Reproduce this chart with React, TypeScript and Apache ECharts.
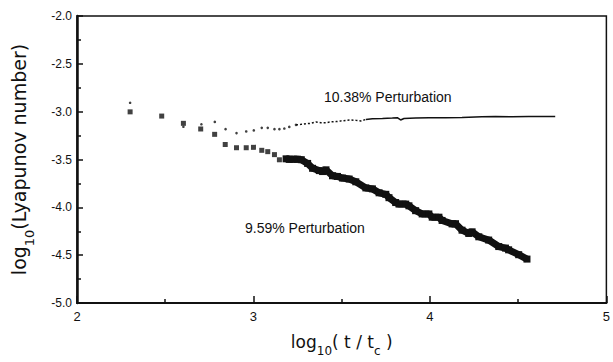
import React, { useEffect, useRef } from "react";
import * as echarts from "echarts";

// 9.59% perturbation: isolated early squares
const lowerSparseX = [2.301, 2.48, 2.603, 2.701, 2.78, 2.84, 2.904, 2.959, 3.0, 3.047, 3.081, 3.119, 3.147];
const lowerSparseY = [-3.002, -3.046, -3.122, -3.181, -3.237, -3.343, -3.377, -3.377, -3.373, -3.404, -3.418, -3.449, -3.503];
// 9.59% perturbation: dense band of squares
const lowerBandX = [3.185, 3.203, 3.226, 3.249, 3.271, 3.307, 3.335, 3.373, 3.392, 3.411, 3.448, 3.476, 3.505, 3.542, 3.58, 3.637, 3.674, 3.712, 3.75, 3.768, 3.806, 3.825, 3.863, 3.881, 3.919, 3.956, 3.994, 4.013, 4.051, 4.069, 4.126, 4.145, 4.182, 4.22, 4.239, 4.277, 4.333, 4.39, 4.428, 4.446, 4.503, 4.55];
const lowerBandY = [-3.493, -3.498, -3.497, -3.497, -3.502, -3.541, -3.592, -3.616, -3.626, -3.608, -3.67, -3.677, -3.694, -3.704, -3.733, -3.797, -3.807, -3.848, -3.864, -3.899, -3.95, -3.966, -3.966, -3.984, -4.035, -4.069, -4.069, -4.103, -4.103, -4.137, -4.173, -4.171, -4.239, -4.273, -4.256, -4.308, -4.342, -4.41, -4.426, -4.444, -4.495, -4.541];

// 10.38% perturbation: isolated early dots
const upperSparseX = [2.301, 2.603, 2.705, 2.781, 2.842, 2.904, 2.959, 3.002, 3.047, 3.081, 3.119, 3.147, 3.175, 3.203, 3.241];
const upperSparseY = [-2.907, -3.158, -3.132, -3.107, -3.183, -3.224, -3.207, -3.196, -3.169, -3.169, -3.183, -3.183, -3.176, -3.159, -3.138];
// 10.38% perturbation: closely spaced dots
const upperMidX = [3.241, 3.269, 3.298, 3.326, 3.354, 3.382, 3.411, 3.439, 3.467, 3.495, 3.524, 3.552, 3.58, 3.608, 3.637];
const upperMidY = [-3.138, -3.132, -3.125, -3.122, -3.107, -3.115, -3.115, -3.107, -3.104, -3.097, -3.091, -3.087, -3.091, -3.097, -3.081];
// 10.38% perturbation: continuous tail
const upperTailX = [3.637, 3.674, 3.731, 3.787, 3.815, 3.834, 3.853, 3.919, 3.994, 4.089, 4.182, 4.295, 4.371, 4.465, 4.559, 4.71];
const upperTailY = [-3.081, -3.074, -3.071, -3.066, -3.063, -3.087, -3.071, -3.066, -3.063, -3.063, -3.06, -3.053, -3.05, -3.053, -3.05, -3.05];

const xTicks = [2, 3, 4, 5];
const yTicks = [-5.0, -4.5, -4.0, -3.5, -3.0, -2.5, -2.0];

const labelUpper = "10.38% Perturbation";
const labelLower = "9.59% Perturbation";

const zip = (xs: number[], ys: number[]) => xs.map((x, i) => [x, ys[i]]);

const INK = "#111";
const TICK_FONT = "'Liberation Sans', Arial, Helvetica, sans-serif";
const TITLE_FONT = "'DejaVu Sans', 'Liberation Sans', sans-serif";

const makeRich = (size: number) => ({
  m: { fontSize: size, fontFamily: TITLE_FONT, color: INK, lineHeight: size, verticalAlign: "top" },
  s: { fontSize: Math.round(size * 0.7), fontFamily: TITLE_FONT, color: INK, lineHeight: Math.round(size * 1.4), verticalAlign: "bottom" },
});

export default function App() {
  const ref = useRef<HTMLDivElement>(null);
  useEffect(() => {
    if (!ref.current) return;
    const chart = echarts.init(ref.current, null, { renderer: "svg" });
    chart.setOption({
      animation: false,
      backgroundColor: "#fff",
      grid: {
        left: 77,
        right: 5,
        top: 16,
        bottom: 53,
        show: true,
        borderColor: INK,
        borderWidth: 1.5,
        backgroundColor: "transparent",
      },
      xAxis: {
        type: "value",
        min: xTicks[0],
        max: xTicks[xTicks.length - 1],
        interval: 1,
        name: "{m|log}{s|10}{m|( t / t}{s|c}{m| )}",
        nameLocation: "middle",
        nameGap: 30,
        nameTextStyle: { rich: makeRich(17) },
        axisLine: { show: true, onZero: false, lineStyle: { color: INK, width: 2 } },
        axisTick: { show: true, inside: true, length: 7, lineStyle: { color: INK, width: 1.5 } },
        minorTick: { show: true, splitNumber: 2, length: 4, lineStyle: { color: INK, width: 1.5 } },
        splitLine: { show: false },
        minorSplitLine: { show: false },
        axisLabel: {
          margin: 7,
          fontSize: 13,
          fontFamily: TICK_FONT,
          color: INK,
          formatter: (v: number) => String(v),
        },
      },
      yAxis: {
        type: "value",
        min: yTicks[0],
        max: yTicks[yTicks.length - 1],
        interval: 0.5,
        name: "{m|log}{s|10}{m|(Lyapunov number)}",
        nameLocation: "middle",
        nameGap: 41,
        nameTextStyle: { rich: makeRich(19) },
        axisLine: { show: true, onZero: false, lineStyle: { color: INK, width: 2.5 } },
        axisTick: { show: true, inside: true, length: 6, lineStyle: { color: INK, width: 1.5 } },
        minorTick: { show: true, splitNumber: 2, length: 4, lineStyle: { color: INK, width: 1.5 } },
        splitLine: { show: false },
        minorSplitLine: { show: false },
        axisLabel: {
          margin: 5,
          fontSize: 12,
          fontFamily: TICK_FONT,
          color: INK,
          formatter: (v: number) => v.toFixed(1),
        },
      },
      series: [
        {
          name: "10.38% sparse",
          type: "scatter",
          data: zip(upperSparseX, upperSparseY),
          symbol: "circle",
          symbolSize: 2.6,
          itemStyle: { color: INK },
        },
        {
          name: "10.38% mid",
          type: "line",
          data: zip(upperMidX, upperMidY),
          showSymbol: false,
          lineStyle: { color: INK, width: 1.5, type: [2, 2] },
        },
        {
          name: "10.38% tail",
          type: "line",
          data: zip(upperTailX, upperTailY),
          showSymbol: false,
          lineStyle: { color: INK, width: 1.5 },
        },
        {
          name: "9.59% sparse",
          type: "scatter",
          data: zip(lowerSparseX, lowerSparseY),
          symbol: "rect",
          symbolSize: 5,
          itemStyle: { color: INK },
        },
        {
          name: "9.59% band",
          type: "line",
          data: zip(lowerBandX, lowerBandY),
          symbol: "rect",
          symbolSize: 7,
          showSymbol: true,
          itemStyle: { color: INK },
          lineStyle: { color: INK, width: 7 },
        },
      ],
      graphic: [
        {
          type: "text",
          left: 324,
          top: 90,
          style: { text: labelUpper, fontSize: 14, fontFamily: TICK_FONT, fill: INK },
        },
        {
          type: "text",
          left: 245,
          top: 221,
          style: { text: labelLower, fontSize: 14, fontFamily: TICK_FONT, fill: INK },
        },
      ],
    });
    return () => chart.dispose();
  }, []);
  return (
    <div
      ref={ref}
      style={{ position: "absolute", left: 0, top: 0, width: 613, height: 362 }}
    />
  );
}
